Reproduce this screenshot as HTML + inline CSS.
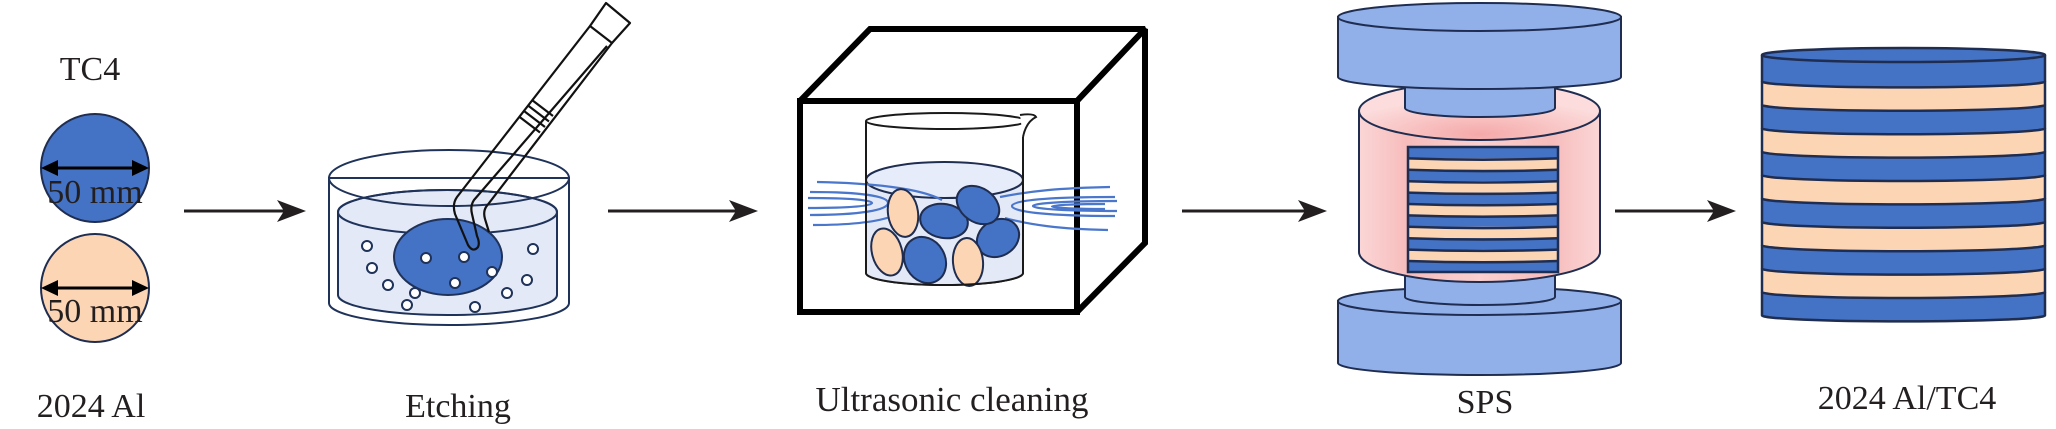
<!DOCTYPE html>
<html>
<head>
<meta charset="utf-8">
<style>
  html, body { margin:0; padding:0; background:#fff; }
  svg { display:block; }
  text { font-family: "Liberation Serif", "Times New Roman", serif; fill:#231f20; }
</style>
</head>
<body>
<svg width="2056" height="429" viewBox="0 0 2056 429" xmlns="http://www.w3.org/2000/svg">
  <defs>
    <linearGradient id="pinkBody" x1="0" y1="0" x2="1" y2="0">
      <stop offset="0" stop-color="#fbd6d6"/>
      <stop offset="0.2" stop-color="#f7bcbc"/>
      <stop offset="0.5" stop-color="#fbd0d0"/>
      <stop offset="0.8" stop-color="#f7bcbc"/>
      <stop offset="1" stop-color="#fbd6d6"/>
    </linearGradient>
    <radialGradient id="pinkTop" cx="0.5" cy="0.9" r="0.6">
      <stop offset="0" stop-color="#f5a9a9"/>
      <stop offset="1" stop-color="#fcdcdc"/>
    </radialGradient>
  </defs>

  <!-- ============ Section 1: TC4 / 2024 Al discs ============ -->
  <text x="90" y="80" font-size="34" text-anchor="middle">TC4</text>
  <circle cx="95" cy="168" r="54" fill="#4472c4" stroke="#1f2d50" stroke-width="2"/>
  <line x1="52" y1="168" x2="138" y2="168" stroke="#000" stroke-width="3"/>
  <polygon points="41,168 58,160 58,176" fill="#000"/>
  <polygon points="149,168 132,160 132,176" fill="#000"/>
  <text x="95" y="203" font-size="34" text-anchor="middle">50 mm</text>

  <circle cx="95" cy="288" r="54" fill="#fcd5b4" stroke="#1f2d50" stroke-width="2"/>
  <line x1="52" y1="288" x2="138" y2="288" stroke="#000" stroke-width="3"/>
  <polygon points="41,288 58,280 58,296" fill="#000"/>
  <polygon points="149,288 132,280 132,296" fill="#000"/>
  <text x="95" y="322" font-size="34" text-anchor="middle">50 mm</text>

  <text x="91" y="417" font-size="34" text-anchor="middle">2024 Al</text>

  <!-- Arrow 1 -->
  <line x1="184" y1="211" x2="284" y2="211" stroke="#231f20" stroke-width="3"/>
  <polygon points="306,211 277,200 284,211 277,222" fill="#231f20"/>

  <!-- ============ Section 2: Etching ============ -->
  <path d="M329,178 L329,303 A120,22 0 0 0 569,303 L569,178 Z" fill="#fff" stroke="#1f3259" stroke-width="2"/>
  <path d="M338,212 L338,295 A109.5,20 0 0 0 557,295 L557,212 A109.5,22 0 0 0 338,212 Z" fill="#e3e9f7" stroke="#1f3259" stroke-width="2"/>
  <ellipse cx="447.5" cy="212" rx="109.5" ry="22" fill="none" stroke="#1f3259" stroke-width="2"/>
  <ellipse cx="449" cy="178" rx="120" ry="28" fill="none" stroke="#1f3259" stroke-width="2"/>
  <ellipse cx="448" cy="257" rx="54" ry="38" fill="#4472c4" stroke="#1f3259" stroke-width="2"/>
  <g fill="#fff" stroke="#1f3259" stroke-width="2">
    <circle cx="367" cy="246" r="5"/>
    <circle cx="372" cy="268" r="5"/>
    <circle cx="388" cy="285" r="5"/>
    <circle cx="415" cy="293" r="5"/>
    <circle cx="407" cy="305" r="5"/>
    <circle cx="426" cy="258" r="5"/>
    <circle cx="464" cy="257" r="5"/>
    <circle cx="492" cy="272" r="5"/>
    <circle cx="455" cy="283" r="5"/>
    <circle cx="475" cy="307" r="5"/>
    <circle cx="507" cy="293" r="5"/>
    <circle cx="527" cy="280" r="5"/>
    <circle cx="533" cy="249" r="5"/>
  </g>
  <g fill="none" stroke="#111" stroke-width="2.2" stroke-linejoin="round">
    <path d="M606,3 L630,23 L612,43 L590,26 Z" fill="#fff"/>
    <path d="M590,26 L457,197 Q452,204 455,214 L468,245 Q473,253 478,247 Q480,243 477,236 L472,214 Q470,206 474,200 L607,46"/>
    <path d="M612,43 L486,207 Q483,212 485,219 L489,232"/>
    <line x1="532" y1="100" x2="553" y2="116"/>
    <line x1="528" y1="105.5" x2="549" y2="121.5"/>
    <line x1="524" y1="111" x2="545" y2="127"/>
    <line x1="519" y1="116.5" x2="540" y2="132.5"/>
  </g>

  <text x="458" y="417" font-size="34" text-anchor="middle">Etching</text>

  <!-- Arrow 2 -->
  <line x1="608" y1="211" x2="736" y2="211" stroke="#231f20" stroke-width="3"/>
  <polygon points="758,211 729,200 736,211 729,222" fill="#231f20"/>

  <!-- ============ Section 3: Ultrasonic cleaning ============ -->
  <g stroke="#000" stroke-width="6" stroke-linejoin="miter" stroke-miterlimit="2" fill="#fff">
    <polygon points="800,101 870,29 1145,29 1077,101"/>
    <polygon points="1077,101 1145,29 1145,243 1077,312"/>
    <rect x="800" y="101" width="277" height="211"/>
  </g>
  <path d="M866,121 L866,273 A78.5,12 0 0 0 1023,273 L1023,137" fill="#fff" stroke="#1a1a1a" stroke-width="2"/>
  <path d="M866,180 L866,273 A78.5,12 0 0 0 1023,273 L1023,180 A78.5,18 0 0 0 866,180 Z" fill="#e3e9f7" stroke="none"/>
  <ellipse cx="944.5" cy="180" rx="78.5" ry="18" fill="#e6ecf9" stroke="#1f2d50" stroke-width="2"/>
  <g fill="none" stroke="#4a76cc" stroke-width="2.2">
    <path d="M817,182 C870,183 920,188 942,200"/>
    <path d="M810,192 C860,192 888,196 888,203 C888,210 860,215 810,215"/>
    <path d="M808,198 C850,198 872,200 872,203 C872,206 850,208 808,208"/>
    <path d="M813,225 C850,225 875,222 890,217"/>
    <path d="M1110,187 C1060,188 1030,191 1000,197"/>
    <path d="M1115,197 C1050,197 1012,200 1012,206 C1012,212 1050,216 1115,216"/>
    <path d="M1117,201 C1070,201 1033,203 1033,206 C1033,209 1070,211 1117,211"/>
    <path d="M1105,204 C1080,204 1052,205 1052,206.5 C1052,208 1080,209 1105,209"/>
    <path d="M1108,230 C1060,229 1030,225 1005,218"/>
  </g>
  <g stroke="#1f2d50" stroke-width="2">
    <ellipse cx="998" cy="238" rx="22" ry="18" transform="rotate(-30 998 238)" fill="#4472c4"/>
    <ellipse cx="887" cy="252" rx="15" ry="24" transform="rotate(-15 887 252)" fill="#fcd5b4"/>
    <ellipse cx="925" cy="260" rx="20" ry="24" transform="rotate(-30 925 260)" fill="#4472c4"/>
    <ellipse cx="968" cy="262" rx="15" ry="24" transform="rotate(-5 968 262)" fill="#fcd5b4"/>
    <ellipse cx="944" cy="221" rx="24" ry="17" transform="rotate(10 944 221)" fill="#4472c4"/>
    <ellipse cx="978" cy="205" rx="23" ry="17" transform="rotate(35 978 205)" fill="#4472c4"/>
    <ellipse cx="903" cy="213" rx="15" ry="24" transform="rotate(-8 903 213)" fill="#fcd5b4"/>
  </g>
  <path d="M866,121 L866,273 A78.5,12 0 0 0 1023,273 L1023,137" fill="none" stroke="#1a1a1a" stroke-width="2"/>
  <ellipse cx="946" cy="121" rx="80" ry="8" fill="#fff" stroke="#1a1a1a" stroke-width="2"/>
  <path d="M1020,115 Q1034,113 1036,117 Q1026,122 1023,137" fill="#fff" stroke="#1a1a1a" stroke-width="2"/>

  <text x="952" y="411" font-size="35" text-anchor="middle">Ultrasonic cleaning</text>

  <!-- Arrow 3 -->
  <line x1="1182" y1="211" x2="1305" y2="211" stroke="#231f20" stroke-width="3"/>
  <polygon points="1327,211 1298,200 1305,211 1298,222" fill="#231f20"/>

  <!-- ============ Section 4: SPS ============ -->
  <g stroke="#1f2d50" stroke-width="2">
    <path d="M1338,301 L1338,363 A141.5,12 0 0 0 1621,363 L1621,301 Z" fill="#91b0ea"/>
    <ellipse cx="1479.5" cy="301" rx="141.5" ry="14" fill="#91b0ea"/>
    <path d="M1405,262 L1405,297 A75,8 0 0 0 1555,297 L1555,262 Z" fill="#91b0ea"/>
    <path d="M1359,111 L1359,252 A120.5,30 0 0 0 1600,252 L1600,111 Z" fill="url(#pinkBody)"/>
    <ellipse cx="1479.5" cy="111" rx="120.5" ry="29" fill="url(#pinkTop)"/>
    <path d="M1405,80 L1405,108 A75,9 0 0 0 1555,108 L1555,80 Z" fill="#91b0ea"/>
    <path d="M1338,17 L1338,77 A141.5,12 0 0 0 1621,77 L1621,17 Z" fill="#91b0ea"/>
    <ellipse cx="1479.5" cy="17" rx="141.5" ry="14" fill="#91b0ea"/>
  </g>
  <g stroke="none">
    <rect x="1408" y="147" width="150" height="11.4" fill="#4472c4"/>
    <rect x="1408" y="158.4" width="150" height="11.4" fill="#fcd5b4"/>
    <rect x="1408" y="169.8" width="150" height="11.4" fill="#4472c4"/>
    <rect x="1408" y="181.2" width="150" height="11.4" fill="#fcd5b4"/>
    <rect x="1408" y="192.6" width="150" height="11.4" fill="#4472c4"/>
    <rect x="1408" y="204" width="150" height="11.4" fill="#fcd5b4"/>
    <rect x="1408" y="215.4" width="150" height="11.4" fill="#4472c4"/>
    <rect x="1408" y="226.8" width="150" height="11.4" fill="#fcd5b4"/>
    <rect x="1408" y="238.2" width="150" height="11.4" fill="#4472c4"/>
    <rect x="1408" y="249.6" width="150" height="11.4" fill="#fcd5b4"/>
    <rect x="1408" y="261" width="150" height="11.4" fill="#4472c4"/>
  </g>
  <g fill="none" stroke="#1f2d50" stroke-width="2.5">
    <rect x="1408" y="147" width="150" height="125"/>
    <path d="M1408,158.4 Q1483,161 1558,158.4"/>
    <path d="M1408,169.8 Q1483,172.4 1558,169.8"/>
    <path d="M1408,181.2 Q1483,183.8 1558,181.2"/>
    <path d="M1408,192.6 Q1483,195.2 1558,192.6"/>
    <path d="M1408,204 Q1483,206.6 1558,204"/>
    <path d="M1408,215.4 Q1483,218 1558,215.4"/>
    <path d="M1408,226.8 Q1483,229.4 1558,226.8"/>
    <path d="M1408,238.2 Q1483,240.8 1558,238.2"/>
    <path d="M1408,249.6 Q1483,252.2 1558,249.6"/>
    <path d="M1408,261 Q1483,263.6 1558,261"/>
  </g>

  <text x="1485" y="413" font-size="34" text-anchor="middle">SPS</text>

  <!-- Arrow 4 -->
  <line x1="1615" y1="211" x2="1714" y2="211" stroke="#231f20" stroke-width="3"/>
  <polygon points="1736,211 1707,200 1714,211 1707,222" fill="#231f20"/>

  <!-- ============ Section 5: 2024 Al/TC4 laminate ============ -->
  <g stroke="none">
    <path d="M1762,292 L1762,315.4 A141.5,6 0 0 0 2045,315.4 L2045,292 Z" fill="#4472c4"/>
    <path d="M1762,268.6 L1762,292 A141.5,6 0 0 0 2045,292 L2045,268.6 Z" fill="#fcd5b4"/>
    <path d="M1762,245.2 L1762,268.6 A141.5,6 0 0 0 2045,268.6 L2045,245.2 Z" fill="#4472c4"/>
    <path d="M1762,221.8 L1762,245.2 A141.5,6 0 0 0 2045,245.2 L2045,221.8 Z" fill="#fcd5b4"/>
    <path d="M1762,198.4 L1762,221.8 A141.5,6 0 0 0 2045,221.8 L2045,198.4 Z" fill="#4472c4"/>
    <path d="M1762,175 L1762,198.4 A141.5,6 0 0 0 2045,198.4 L2045,175 Z" fill="#fcd5b4"/>
    <path d="M1762,151.6 L1762,175 A141.5,6 0 0 0 2045,175 L2045,151.6 Z" fill="#4472c4"/>
    <path d="M1762,128.2 L1762,151.6 A141.5,6 0 0 0 2045,151.6 L2045,128.2 Z" fill="#fcd5b4"/>
    <path d="M1762,104.8 L1762,128.2 A141.5,6 0 0 0 2045,128.2 L2045,104.8 Z" fill="#4472c4"/>
    <path d="M1762,81.4 L1762,104.8 A141.5,6 0 0 0 2045,104.8 L2045,81.4 Z" fill="#fcd5b4"/>
    <path d="M1762,55 L1762,81.4 A141.5,6 0 0 0 2045,81.4 L2045,55 Z" fill="#4472c4"/>
  </g>
  <g fill="none" stroke="#1f2d50" stroke-width="2.5">
    <path d="M1762,55 L1762,315.4 A141.5,6 0 0 0 2045,315.4 L2045,55"/>
    <path d="M1762,81.4 A141.5,6 0 0 0 2045,81.4"/>
    <path d="M1762,104.8 A141.5,6 0 0 0 2045,104.8"/>
    <path d="M1762,128.2 A141.5,6 0 0 0 2045,128.2"/>
    <path d="M1762,151.6 A141.5,6 0 0 0 2045,151.6"/>
    <path d="M1762,175 A141.5,6 0 0 0 2045,175"/>
    <path d="M1762,198.4 A141.5,6 0 0 0 2045,198.4"/>
    <path d="M1762,221.8 A141.5,6 0 0 0 2045,221.8"/>
    <path d="M1762,245.2 A141.5,6 0 0 0 2045,245.2"/>
    <path d="M1762,268.6 A141.5,6 0 0 0 2045,268.6"/>
    <path d="M1762,292 A141.5,6 0 0 0 2045,292"/>
  </g>
  <ellipse cx="1903.5" cy="55" rx="141.5" ry="7" fill="#4472c4" stroke="#1f2d50" stroke-width="2.5"/>

  <text x="1907" y="409" font-size="34" text-anchor="middle">2024 Al/TC4</text>
</svg>
</body>
</html>
